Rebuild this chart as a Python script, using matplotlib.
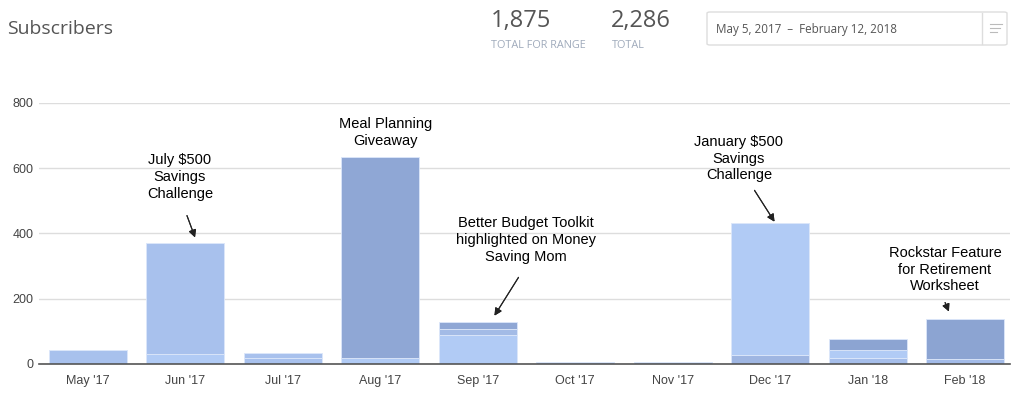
import matplotlib
matplotlib.use('Agg')
import matplotlib.pyplot as plt
from matplotlib.patches import FancyBboxPatch
from matplotlib.lines import Line2D

months = ["May '17", "Jun '17", "Jul '17", "Aug '17", "Sep '17",
          "Oct '17", "Nov '17", "Dec '17", "Jan '18", "Feb '18"]

# stacked segments, bottom to top
bottom = [44, 31, 18, 19, 88, 6, 6, 28, 17, 14]
middle = [0, 340, 15, 0, 18, 0, 0, 404, 27, 0]
top = [0, 0, 0, 616, 23, 0, 0, 0, 33, 123]

total_range = "1,875"
total_all = "2,286"
date_range = "May 5, 2017  \u2013  February 12, 2018"

notes = [
    ("July $500\nSavings\nChallenge", 1),
    ("Meal Planning\nGiveaway", 3),
    ("Better Budget Toolkit\nhighlighted on Money\nSaving Mom", 4),
    ("January $500\nSavings\nChallenge", 7),
    ("Rockstar Feature\nfor Retirement\nWorksheet", 9),
]

LIGHT = '#b1cbf5'
MID = '#a8c1ed'
DARK = '#8fa7d5'
bottom_col = [MID, LIGHT, MID, LIGHT, LIGHT, MID, MID, '#9fb6e2', '#a6beea', '#a3bbe8']
middle_col = [MID, MID, MID, MID, '#a3bbe6', MID, MID, LIGHT, LIGHT, MID]
top_col = [DARK, DARK, DARK, DARK, DARK, DARK, DARK, DARK, '#8ca4d2', '#8ca4d2']

plt.rcParams['font.family'] = ['Liberation Sans', 'DejaVu Sans']

fig = plt.figure(figsize=(10.24, 3.97), dpi=100)
ax = fig.add_axes([39 / 1024, 1 - 364 / 397, 971 / 1024, 261 / 397])

x = list(range(len(months)))
w = 0.8
ax.bar(x, bottom, width=w, color=bottom_col, edgecolor='#dce7fa', linewidth=0.6, zorder=3)
mid_base = bottom
ax.bar(x, middle, width=w, bottom=mid_base, color=middle_col, edgecolor='#dce7fa',
       linewidth=0.6, zorder=3)
top_base = [b + m for b, m in zip(bottom, middle)]
ax.bar(x, top, width=w, bottom=top_base, color=top_col, edgecolor='#dce7fa',
       linewidth=0.6, zorder=3)

ax.set_xlim(-0.5, 9.46)
ax.set_ylim(0, 800)
ax.set_yticks([0, 200, 400, 600, 800])
ax.set_xticks(x)
ax.set_xticklabels(months)
ax.yaxis.grid(True, color='#dddddd', linewidth=1, zorder=0)
for s in ['top', 'right', 'left']:
    ax.spines[s].set_visible(False)
ax.spines['bottom'].set_color('#555555')
ax.spines['bottom'].set_linewidth(1.2)
ax.spines['bottom'].set_zorder(4)
ax.tick_params(axis='both', length=0, labelsize=9, labelcolor='#444444')
ax.tick_params(axis='x', pad=8)
ax.tick_params(axis='y', pad=4)

# annotations: text centre (pixel x, y of first line), arrow tail/head in pixels
H = 397
def px(xp, yp):
    return (xp / 1024, 1 - yp / H)

layout = {
    1: ((180, 153), (186, 213), (196, 240)),
    3: ((386, 117), None, None),
    4: ((526, 216), (520, 275), (493, 318)),
    7: ((739, 135), (753, 188), (776, 224)),
    9: ((945, 246), (944, 300), (950, 314)),
}
for text, i in notes:
    (tx, ty), tail, head = layout[i]
    fig.text(*px(tx, ty), text, ha='center', va='top', fontsize=10.5,
             color='#000000', linespacing=1.25)
    if tail:
        fig.add_artist(plt.annotate('', xy=px(*head), xytext=px(*tail),
                                    xycoords='figure fraction',
                                    textcoords='figure fraction',
                                    arrowprops=dict(arrowstyle='-|>', color='#222222',
                                                    lw=0.8, mutation_scale=11)))

# header
hf = ['Open Sans', 'DejaVu Sans']
fig.text(*px(7, 29), "Subscribers", fontsize=14, color='#555555', va='center',
         family=hf)
fig.text(*px(491, 21), total_range, fontsize=17, color='#555555', va='center', family=hf)
fig.text(*px(491, 45), "TOTAL FOR RANGE", fontsize=7.8, color='#9faabb', va='center',
         family=hf)
fig.text(*px(611, 21), total_all, fontsize=17, color='#555555', va='center', family=hf)
fig.text(*px(612, 45), "TOTAL", fontsize=7.8, color='#9faabb', va='center', family=hf)

box = FancyBboxPatch(px(707, 45), 300 / 1024, 33 / H, boxstyle='round,pad=0,rounding_size=0.003',
                     transform=fig.transFigure, facecolor='white', edgecolor='#dddddd', lw=1)
fig.add_artist(box)
fig.text(*px(716, 29), date_range, fontsize=8.4, color='#555555', va='center', family=hf)
fig.add_artist(Line2D([982 / 1024] * 2, [1 - 13 / H, 1 - 44 / H], color='#dddddd', lw=1))
for yy, x2 in [(24, 1002), (28, 1000), (32, 997)]:
    fig.add_artist(Line2D([990 / 1024, x2 / 1024], [1 - yy / H] * 2, color='#bbbbbb', lw=0.8))

fig.savefig('out.png', dpi=100, facecolor='white')
